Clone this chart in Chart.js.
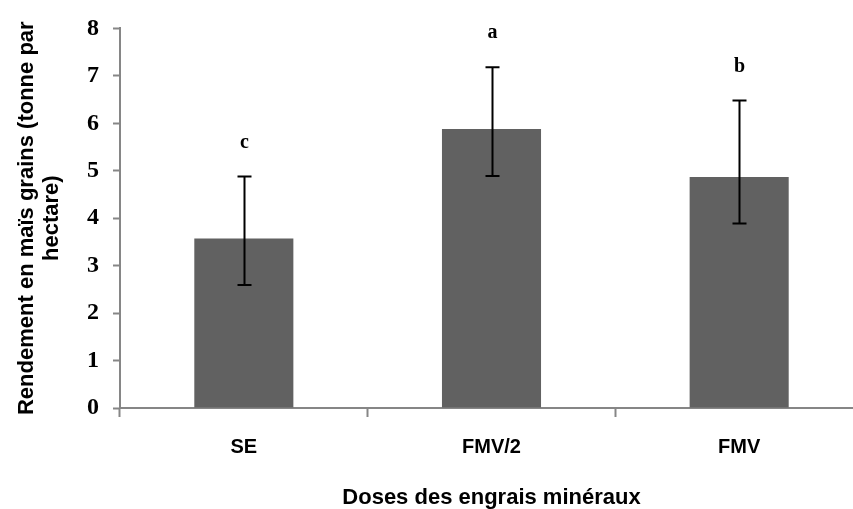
<!DOCTYPE html>
<html>
<head>
<meta charset="utf-8">
<script src="https://cdn.jsdelivr.net/npm/chart.js@4/dist/chart.umd.min.js"></script>
<style>
  html, body { margin: 0; padding: 0; background: #fff; overflow: hidden; }
  #wrap { width: 863px; height: 509px; }
</style>
</head>
<body>
<div id="wrap"><canvas id="c" width="863" height="509"></canvas></div>
<script>
const categories = ["SE", "FMV/2", "FMV"];
const yieldValues = [3.57, 5.88, 4.87];
const errLow = [2.59, 4.89, 3.89];
const errHigh = [4.88, 7.18, 6.48];
const letters = ["c", "a", "b"];
const yTicks = [0, 1, 2, 3, 4, 5, 6, 7, 8];
const xTitle = "Doses des engrais minéraux";
const yTitle = ["Rendement en maïs grains (tonne par", "hectare)"];

const errorBarPlugin = {
  id: 'errorBars',
  afterDatasetsDraw(chart) {
    const ctx = chart.ctx;
    const x = chart.scales.x, y = chart.scales.y;
    ctx.save();
    ctx.strokeStyle = '#000';
    ctx.lineWidth = 2;
    categories.forEach((c, i) => {
      const px = Math.round(x.getPixelForValue(i)) + 0.5;
      const yl = y.getPixelForValue(errLow[i]);
      const yh = y.getPixelForValue(errHigh[i]);
      ctx.beginPath();
      ctx.moveTo(px, yl); ctx.lineTo(px, yh);
      ctx.moveTo(px - 7, yh); ctx.lineTo(px + 7, yh);
      ctx.moveTo(px - 7, yl); ctx.lineTo(px + 7, yl);
      ctx.stroke();
      ctx.fillStyle = '#000';
      ctx.font = 'bold 20px "Liberation Serif", serif';
      ctx.textAlign = 'center';
      ctx.textBaseline = 'middle';
      ctx.fillText(letters[i], px, yh - 34);
    });
    ctx.restore();
  }
};

new Chart(document.getElementById('c'), {
  type: 'bar',
  data: {
    labels: categories,
    datasets: [{
      data: yieldValues,
      backgroundColor: '#616161',
      borderWidth: 0,
      categoryPercentage: 1.0,
      barPercentage: 0.4
    }]
  },
  options: {
    responsive: false,
    animation: false,
    layout: { padding: { top: 23, left: 8, right: 0, bottom: 0 } },
    plugins: { legend: { display: false }, tooltip: { enabled: false } },
    scales: {
      x: {
        afterFit(s) { s.height = 101; },
        grid: { drawOnChartArea: false, offset: true, color: '#868686', tickLength: 9, tickWidth: 2 },
        border: { color: '#868686', width: 2 },
        ticks: { color: '#000', padding: 20, font: { family: '"Liberation Sans Narrow", "Liberation Sans", sans-serif', size: 20, weight: 'bold', lineHeight: 1.0 } },
        title: { display: true, text: xTitle, color: '#000', padding: { top: 18, bottom: 0 }, font: { family: '"Liberation Sans Narrow", "Liberation Sans", sans-serif', size: 22, weight: 'bold', lineHeight: 1.0 } }
      },
      y: {
        min: 0, max: 8,
        afterFit(s) { s.width = 112; },
        afterBuildTicks(s) { s.ticks = yTicks.map(v => ({ value: v })); },
        grid: { drawOnChartArea: false, color: '#868686', tickLength: 7, tickWidth: 2 },
        border: { color: '#868686', width: 2 },
        ticks: { color: '#000', padding: 14, font: { family: '"Liberation Serif", serif', size: 24, weight: 'bold' } },
        title: { display: true, text: yTitle, color: '#000', padding: { top: 6, bottom: 0 }, font: { family: '"Liberation Sans Narrow", "Liberation Sans", sans-serif', size: 22, weight: 'bold', lineHeight: 1.14 } }
      }
    }
  },
  plugins: [errorBarPlugin]
});
</script>
</body>
</html>
